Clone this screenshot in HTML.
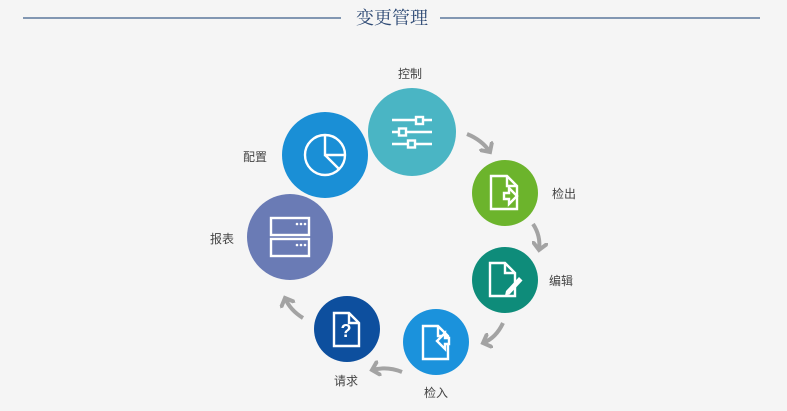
<!DOCTYPE html>
<html><head><meta charset="utf-8"><style>
html,body{margin:0;padding:0;background:#f5f5f5;}
body{width:787px;height:411px;overflow:hidden;position:relative;}
svg{position:absolute;left:0;top:0;}
</style></head><body>
<svg width="787" height="411" viewBox="0 0 787 411" xmlns="http://www.w3.org/2000/svg">
<defs>
<marker id="ah" markerWidth="4" markerHeight="4" refX="2" refY="2" orient="auto" markerUnits="strokeWidth">
<path d="M0,0 L2,2 L0,4" fill="none" stroke="#a3a3a3" stroke-width="1"/>
</marker>
</defs>
<line x1="23" y1="18" x2="341" y2="18" stroke="#3d5f8a" stroke-width="1.2"/>
<line x1="440" y1="18" x2="760" y2="18" stroke="#3d5f8a" stroke-width="1.2"/>
<text x="392" y="24" text-anchor="middle" font-family="'Noto Serif CJK SC',serif" font-size="18" fill="#2e4a75">变更管理</text>

<g fill="none" stroke="#a3a3a3" stroke-width="4" stroke-linecap="butt" marker-end="url(#ah)">
<path d="M467,134 Q482,140 490,152"/>
<path d="M533,224 Q541,236 539,250"/>
<path d="M503,323 Q496,338 483,343"/>
<path d="M402,372 Q387,366 372,370"/>
<path d="M303,318 Q290,310 285,298"/>
</g>

<circle cx="325" cy="155" r="43" fill="#1a8fd6"/>
<circle cx="290" cy="237" r="43" fill="#6a7bb5"/>
<circle cx="412" cy="132" r="44" fill="#4ab5c4"/>
<circle cx="505" cy="193" r="33" fill="#6cb42c"/>
<circle cx="505" cy="280" r="33" fill="#0e8c7a"/>
<circle cx="436" cy="342" r="33" fill="#1b92dc"/>
<circle cx="347" cy="329" r="33" fill="#0d4f9e"/>

<g fill="none" stroke="#fff" stroke-width="2.4">
<line x1="392" y1="120" x2="432" y2="120"/><rect x="416" y="117" width="7" height="7" fill="#4ab5c4"/>
<line x1="392" y1="132" x2="432" y2="132"/><rect x="399" y="128.5" width="7" height="7" fill="#4ab5c4"/>
<line x1="392" y1="144" x2="432" y2="144"/><rect x="408" y="140.5" width="7" height="7" fill="#4ab5c4"/>
<circle cx="325" cy="155" r="20"/>
<path d="M325,135 V155 H345 M325,155 L339,169"/>
<rect x="271" y="218" width="38" height="17"/><rect x="271" y="239" width="38" height="17"/>
<path d="M491,176 H507 L517,186 V209 H491 Z M507,176 V186 H517"/>
<path d="M504,193 h5 v-5 l8,8 l-8,8 v-5 h-5 z" fill="#6cb42c"/>
<path d="M490,263 H505 L515,273 V296 H490 Z M505,263 V273 H515"/>
<path d="M506,291 l13,-14 l3.5,3.5 l-13,14 l-4.5,1 z" fill="#fff" stroke="none"/>
<path d="M423,326 H438 L448,336 V359 H423 Z M438,326 V336 H448"/>
<path d="M449,338 h-4 v-5 l-8,8 l8,8 v-5 h4 z" fill="#1b92dc"/>
<path d="M334,313 H349 L359,323 V346 H334 Z M349,313 V323 H359"/>
</g>
<g fill="#fff"><circle cx="297" cy="224" r="1.3"/><circle cx="301" cy="224" r="1.3"/><circle cx="305" cy="224" r="1.3"/>
<circle cx="297" cy="245" r="1.3"/><circle cx="301" cy="245" r="1.3"/><circle cx="305" cy="245" r="1.3"/></g>
<text x="346" y="337" text-anchor="middle" font-family="'Liberation Sans',sans-serif" font-weight="bold" font-size="18" fill="#fff">?</text>

<g font-family="'Liberation Sans','Noto Sans CJK SC',sans-serif" font-size="12" fill="#444" text-anchor="middle">
<text x="410" y="78">控制</text>
<text x="564" y="198">检出</text>
<text x="561" y="285">编辑</text>
<text x="436" y="397">检入</text>
<text x="346" y="385">请求</text>
<text x="255" y="161">配置</text>
<text x="222" y="243">报表</text>
</g>
</svg>
</body></html>
